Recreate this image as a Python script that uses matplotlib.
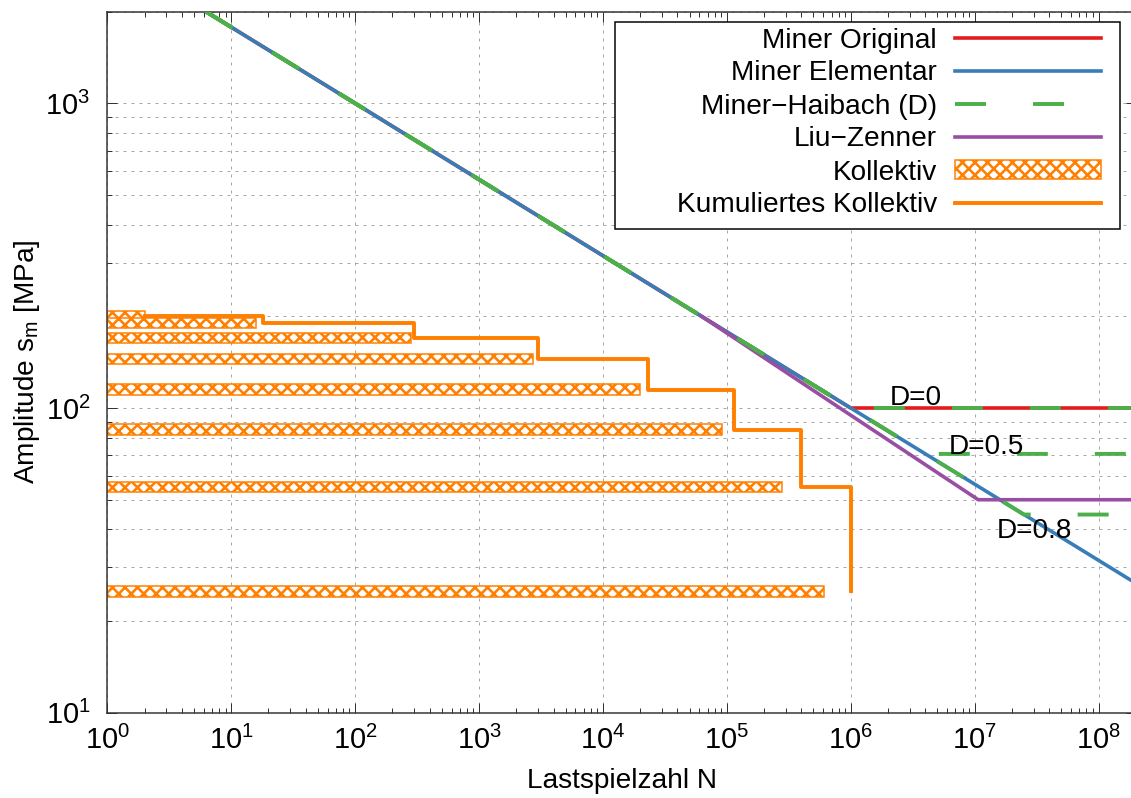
import matplotlib
matplotlib.use("Agg")
import matplotlib.pyplot as plt
import matplotlib.ticker as mticker
from matplotlib.patches import Rectangle

# ---------------- data ----------------
# Miner Original
orig_N = [6.25, 1e6, 2e8]
orig_S = [2000, 100, 100]
# Miner Elementar
elem_N = [6.25, 2e8]
elem_S = [2000, 26.6]
# Miner-Haibach (D) for D = 0, 0.5, 0.8
hb_D = [0, 0.5, 0.8]
hb_N = [[6.25, 1e6, 2e8], [6.25, 4.0e6, 2e8], [6.25, 2.5e7, 2e8]]
hb_S = [[2000, 100, 100], [2000, 70.7, 70.7], [2000, 44.7, 44.7]]
# Liu-Zenner
lz_N = [62500, 1.07e7, 2e8]
lz_S = [200, 50, 50]
# Kollektiv (amplitude levels and frequencies)
koll_S = [200, 190, 170, 145, 115, 85, 55, 25]
koll_h = [2, 16, 280, 2720, 20000, 92000, 280000, 605000]
# Kumuliertes Kollektiv
kum_N = [2, 18, 298, 3018, 23018, 115018, 395018, 1000000]
kum_S = [200, 190, 170, 145, 115, 85, 55, 25]
# D annotations (position N, S)
dlabels = ["D=0", "D=0.5", "D=0.8"]
dlabel_N = [2.07e6, 6.2e6, 1.51e7]
dlabel_S = [102.3, 70.6, 37.4]
# tick positions
xticks = [10 ** e for e in range(0, 9)]
yticks = [10, 100, 1000]

# ---------------- style ----------------
DPI = 75
PT = 72.0 / DPI  # points per pixel
FS = 28 * PT
plt.rcParams.update({
    "font.family": ["Liberation Sans", "DejaVu Sans"],
    "mathtext.fontset": "custom",
    "mathtext.rm": "Liberation Sans",
    "mathtext.it": "Liberation Sans:italic",
    "mathtext.bf": "Liberation Sans:bold",
    "hatch.linewidth": 2.6 * PT,
    "font.size": FS,
})

RED = "#e41a1c"
BLUE = "#377eb8"
GREEN = "#4daf4a"
PURPLE = "#984ea3"
ORANGE = "#ff7f00"

W, H = 1131, 798
fig = plt.figure(figsize=(W / DPI, H / DPI), dpi=DPI)
ax_l, ax_r, ax_t, ax_b = 107.3, 1135.8, 11.6, 712.7
ax = fig.add_axes([ax_l / W, 1 - ax_b / H, (ax_r - ax_l) / W, (ax_b - ax_t) / H])
ax.set_xscale("log")
ax.set_yscale("log")
ax.set_xlim(1, 2e8)
ax.set_ylim(10, 2000)

LW = 3.6 * PT

# Kollektiv bars
half = 0.017
lows = [s * 10 ** (-half) for s in koll_S]
heights = [s * (10 ** half - 10 ** (-half)) for s in koll_S]
bars = ax.barh(lows, [h - 1 for h in koll_h], left=1, height=heights, align="edge",
               facecolor="white", edgecolor=ORANGE, hatch="xx", linewidth=1.5 * PT,
               zorder=2, label="Kollektiv")

# Cumulative collective
l_kum, = ax.plot(kum_N, kum_S, drawstyle="steps-post", color=ORANGE, lw=3.9 * PT,
                 zorder=2.2, label="Kumuliertes Kollektiv")

l_orig, = ax.plot(orig_N, orig_S, color=RED, lw=LW, zorder=3, label="Miner Original")
l_elem, = ax.plot(elem_N, elem_S, color=BLUE, lw=LW, zorder=3.1, label="Miner Elementar")
l_lz, = ax.plot(lz_N, lz_S, color=PURPLE, lw=LW, zorder=3.2, label="Liu\u2212Zenner")
GLW = 3.9 * PT
dash_on, dash_off = 31 * PT / GLW, 47 * PT / GLW
l_hb = None
for i, (n, s) in enumerate(zip(hb_N, hb_S)):
    ln, = ax.plot(n, s, color=GREEN, lw=GLW, zorder=3.3, dashes=(dash_on, dash_off),
                  dash_capstyle="butt",
                  label="Miner\u2212Haibach (D)" if i == 0 else None)
    if i == 0:
        l_hb = ln

for t, n, s in zip(dlabels, dlabel_N, dlabel_S):
    ax.text(n, s, t, ha="left", va="baseline", fontsize=FS, zorder=6)

# Axes styling
ax.xaxis.set_major_locator(mticker.FixedLocator(xticks))
ax.xaxis.set_minor_locator(mticker.LogLocator(base=10, subs=range(2, 10), numticks=200))
ax.yaxis.set_major_locator(mticker.FixedLocator(yticks))
ax.yaxis.set_minor_locator(mticker.LogLocator(base=10, subs=range(2, 10), numticks=200))
ax.xaxis.set_major_formatter(mticker.LogFormatterMathtext())
ax.yaxis.set_major_formatter(mticker.LogFormatterMathtext())
ax.xaxis.set_minor_formatter(mticker.NullFormatter())
ax.yaxis.set_minor_formatter(mticker.NullFormatter())
ax.tick_params(which="both", direction="in", top=True, right=True, color="#333333",
               width=1.0 * PT, labelsize=29 * PT)
ax.tick_params(which="major", length=10 * PT, pad=13 * PT)
ax.tick_params(which="minor", length=5 * PT)
ax.tick_params(axis="y", which="major", pad=17 * PT)
for sp in ax.spines.values():
    sp.set_linewidth(1.5 * PT)
    sp.set_color("#333333")

gkw = dict(color="#a8a8a8", linewidth=1.0 * PT, linestyle=(0, (3, 5)))
ax.grid(True, which="major", axis="x", **gkw)
ax.grid(True, which="both", axis="y", **gkw)
ax.set_axisbelow(True)

ax.set_xlabel("Lastspielzahl N", fontsize=FS)
ax.set_ylabel("Amplitude s$_{\\mathregular{m}}$ [MPa]", fontsize=FS)
ax.xaxis.set_label_coords(0.5, (ax_b - 768) / (ax_b - ax_t))
ax.yaxis.set_label_coords((42 - ax_l) / (ax_r - ax_l), 0.5)

# Legend box
fx0, fx1, fy0, fy1 = 615, 1120, 22, 228.6
ax.add_patch(Rectangle(((fx0 - ax_l) / (ax_r - ax_l), (ax_b - fy1) / (ax_b - ax_t)),
                       (fx1 - fx0) / (ax_r - ax_l), (fy1 - fy0) / (ax_b - ax_t),
                       transform=ax.transAxes, facecolor="white", edgecolor="black",
                       linewidth=1.5 * PT, zorder=4.5, clip_on=False))
handles = [l_orig, l_elem, l_hb, l_lz, bars, l_kum]
labels = ["Miner Original", "Miner Elementar", "Miner\u2212Haibach (D)", "Liu\u2212Zenner",
          "Kollektiv", "Kumuliertes Kollektiv"]
leg = ax.legend(handles, labels, loc="upper right",
                bbox_to_anchor=((1101 - ax_l) / (ax_r - ax_l), (ax_b - 27.5) / (ax_b - ax_t)),
                frameon=False, markerfirst=False, borderpad=0, borderaxespad=0,
                handlelength=146 / 28, handletextpad=18 / 28, labelspacing=0.25,
                handleheight=0.66, fontsize=FS)
leg.set_zorder(5)

fig.savefig("out.png", dpi=DPI)
